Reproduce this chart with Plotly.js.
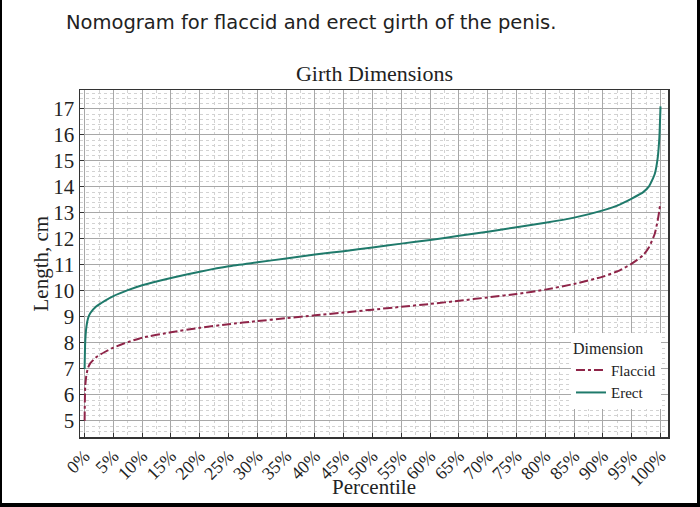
<!DOCTYPE html>
<html>
<head>
<meta charset="utf-8">
<script src="https://cdn.plot.ly/plotly-3.0.1.min.js"></script>
<style>
html,body{margin:0;padding:0;background:#fff;}
#wrap{position:relative;width:700px;height:507px;overflow:hidden;}
#chart{position:absolute;left:0;top:0;width:700px;height:507px;}
#frame{position:absolute;left:0;top:0;width:700px;height:507px;box-sizing:border-box;border-left:2px solid #000;border-right:3px solid #000;border-bottom:4px solid #000;pointer-events:none;}
#cap{position:absolute;left:66px;top:11px;font-family:'DejaVu Sans',sans-serif;font-size:19.5px;color:#222;white-space:nowrap;}
</style>
</head>
<body>
<div id="wrap">
<div id="chart"></div>
<div id="cap">Nomogram for flaccid and erect girth of the penis.</div>
<div id="frame"></div>
</div>
<script>
const percentile = [0, 0.1, 0.3, 0.6, 1, 2, 3.5, 5, 7.5, 10, 15, 20, 25, 30, 35, 40, 45, 50, 55, 60, 65, 70, 75, 80, 85, 90, 93, 95, 97, 98, 99, 99.5, 99.8, 100];
const erect = [7.0, 8.0, 8.6, 8.95, 9.15, 9.4, 9.62, 9.8, 10.03, 10.22, 10.5, 10.74, 10.95, 11.1, 11.25, 11.4, 11.53, 11.67, 11.82, 11.96, 12.12, 12.28, 12.45, 12.62, 12.82, 13.1, 13.33, 13.55, 13.8, 14.02, 14.5, 15.1, 15.9, 17.1];
const flaccid = [5.0, 6.3, 6.75, 7.05, 7.22, 7.45, 7.65, 7.82, 8.03, 8.2, 8.41, 8.58, 8.72, 8.84, 8.95, 9.06, 9.17, 9.28, 9.39, 9.5, 9.62, 9.75, 9.88, 10.05, 10.27, 10.55, 10.8, 11.05, 11.38, 11.68, 12.2, 12.7, 13.1, 13.4];
const xTickVals = [0,5,10,15,20,25,30,35,40,45,50,55,60,65,70,75,80,85,90,95,100];
const xTickText = ['0%','5%','10%','15%','20%','25%','30%','35%','40%','45%','50%','55%','60%','65%','70%','75%','80%','85%','90%','95%','100%'];
const yTickVals = [5,6,7,8,9,10,11,12,13,14,15,16,17];

const serif = "'Liberation Serif',serif";
const traces = [
  {x: percentile, y: flaccid, name: 'Flaccid', mode: 'lines', line: {color: '#8e2448', width: 2, dash: 'dashdot', shape: 'spline', smoothing: 0.5}},
  {x: percentile, y: erect, name: 'Erect', mode: 'lines', line: {color: '#1f7a6b', width: 2, shape: 'spline', smoothing: 0.5}}
];
const minorGrid = {showgrid: true, gridcolor: '#d2d2d2', griddash: '3px,3px', gridwidth: 1};
const layout = {
  width: 700, height: 507,
  margin: {l: 80, r: 32, t: 90, b: 70},
  paper_bgcolor: '#fff', plot_bgcolor: '#fff',
  title: {text: 'Girth Dimensions', x: 0.535, xanchor: 'center', y: 0.855, yanchor: 'middle', font: {family: serif, size: 22, color: '#222'}},
  xaxis: {
    range: [-0.8, 101.3], tickvals: xTickVals, ticktext: xTickText, tickangle: -45,
    tickfont: {family: serif, size: 18, color: '#222'},
    ticks: 'inside', ticklen: 4, tickcolor: '#333',
    showline: true, linecolor: '#333', linewidth: 1.5, mirror: true,
    showgrid: true, gridcolor: '#a8a8a8', gridwidth: 1, zeroline: false,
    minor: Object.assign({dtick: 2.5, tick0: 0}, minorGrid)
  },
  yaxis: {
    range: [4.38, 17.73], tickvals: yTickVals,
    tickfont: {family: serif, size: 21, color: '#222'},
    ticks: 'inside', ticklen: 4, tickcolor: '#333',
    showline: true, linecolor: '#333', linewidth: 1.5, mirror: true,
    showgrid: true, gridcolor: '#a8a8a8', gridwidth: 1, zeroline: false,
    minor: Object.assign({dtick: 0.2, tick0: 0}, minorGrid)
  },
  annotations: [
    {text: 'Percentile', xref: 'paper', yref: 'paper', x: 0.5, y: -0.147, yanchor: 'middle', xanchor: 'center', yshift: 1, showarrow: false, font: {family: serif, size: 21, color: '#222'}},
    {text: 'Length, cm', xref: 'paper', yref: 'paper', x: -0.068, y: 0.5, xanchor: 'center', yanchor: 'middle', textangle: -90, showarrow: false, font: {family: serif, size: 21, color: '#222'}}
  ],
  legend: {
    x: 0.835, y: 0.3, xanchor: 'left', yanchor: 'top',
    bgcolor: '#fff', borderwidth: 0,
    title: {text: 'Dimension', font: {family: serif, size: 16, color: '#222'}},
    font: {family: serif, size: 15, color: '#222'},
    itemwidth: 30, tracegroupgap: 0
  },
  showlegend: true
};
Plotly.newPlot('chart', traces, layout, {displayModeBar: false, staticPlot: true});
</script>
</body>
</html>
